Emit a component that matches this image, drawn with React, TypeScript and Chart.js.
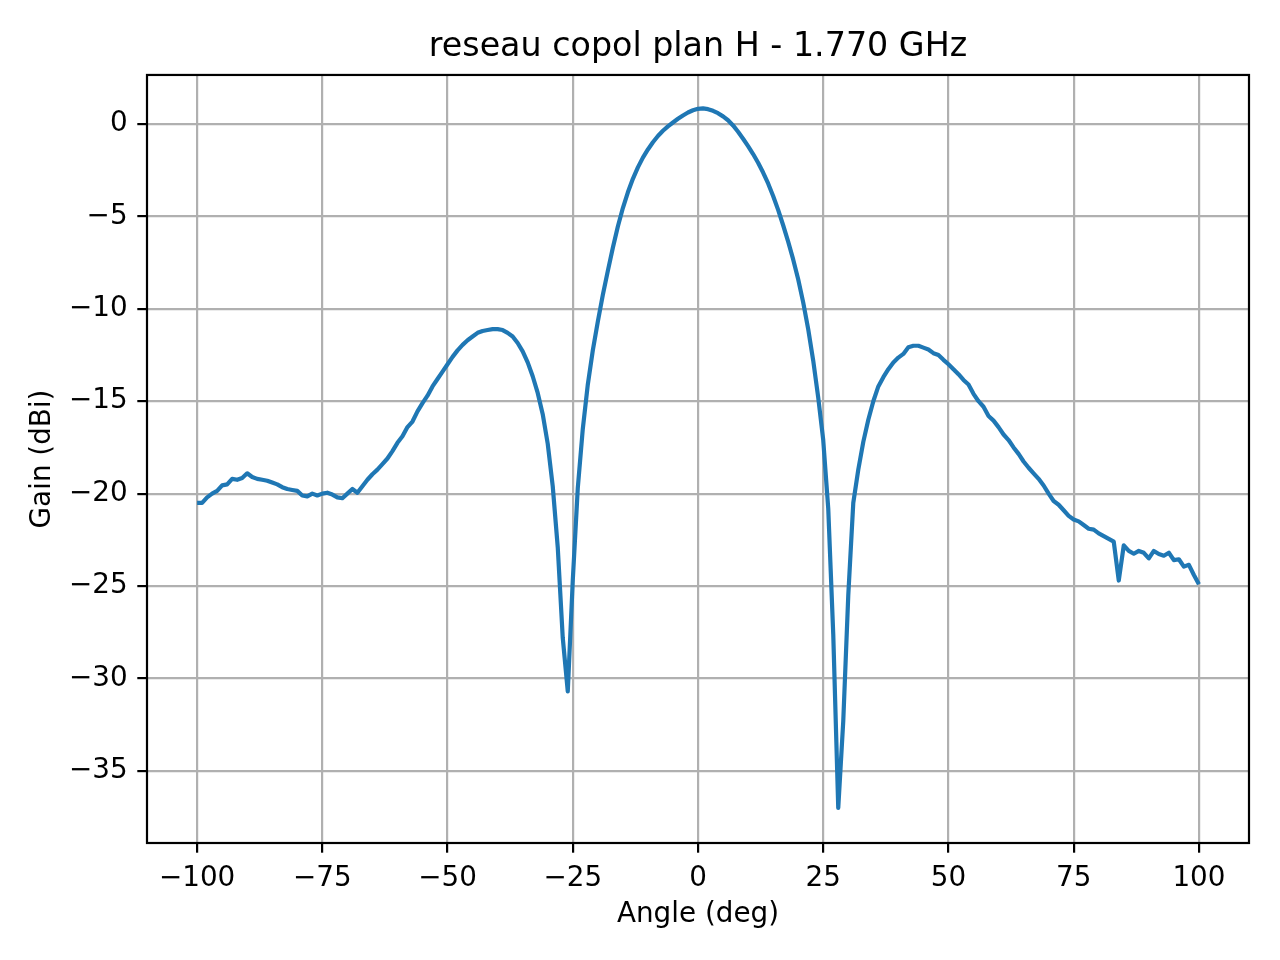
import React, { useEffect, useRef } from "react";
import { Chart, registerables } from "chart.js";

Chart.register(...registerables);

const TITLE = "reseau copol plan H - 1.770 GHz";
const X_LABEL = "Angle (deg)";
const Y_LABEL = "Gain (dBi)";

const angles = [
  -100, -99, -98, -97, -96, -95, -94, -93, -92, -91,
  -90, -89, -88, -87, -86, -85, -84, -83, -82, -81,
  -80, -79, -78, -77, -76, -75, -74, -73, -72, -71,
  -70, -69, -68, -67, -66, -65, -64, -63, -62, -61,
  -60, -59, -58, -57, -56, -55, -54, -53, -52, -51,
  -50, -49, -48, -47, -46, -45, -44, -43, -42, -41,
  -40, -39, -38, -37, -36, -35, -34, -33, -32, -31,
  -30, -29, -28, -27, -26, -25, -24, -23, -22, -21,
  -20, -19, -18, -17, -16, -15, -14, -13, -12, -11,
  -10, -9, -8, -7, -6, -5, -4, -3, -2, -1,
  0, 1, 2, 3, 4, 5, 6, 7, 8, 9,
  10, 11, 12, 13, 14, 15, 16, 17, 18, 19,
  20, 21, 22, 23, 24, 25, 26, 27, 28, 29,
  30, 31, 32, 33, 34, 35, 36, 37, 38, 39,
  40, 41, 42, 43, 44, 45, 46, 47, 48, 49,
  50, 51, 52, 53, 54, 55, 56, 57, 58, 59,
  60, 61, 62, 63, 64, 65, 66, 67, 68, 69,
  70, 71, 72, 73, 74, 75, 76, 77, 78, 79,
  80, 81, 82, 83, 84, 85, 86, 87, 88, 89,
  90, 91, 92, 93, 94, 95, 96, 97, 98, 99,
  100,
];

const gains = [
  -20.5, -20.5, -20.2, -20.0, -19.85, -19.55, -19.5, -19.2, -19.25, -19.15,
  -18.9, -19.1, -19.2, -19.25, -19.3, -19.4, -19.5, -19.65, -19.75, -19.8,
  -19.85, -20.1, -20.15, -20.0, -20.1, -20.0, -19.95, -20.05, -20.2, -20.25,
  -20.0, -19.75, -19.95, -19.6, -19.25, -18.95, -18.7, -18.4, -18.1, -17.7,
  -17.25, -16.9, -16.4, -16.1, -15.55, -15.1, -14.7, -14.2, -13.8, -13.4,
  -13.0, -12.6, -12.25, -11.95, -11.7, -11.5, -11.3, -11.2, -11.15, -11.1,
  -11.1, -11.15, -11.3, -11.5, -11.85, -12.3, -12.9, -13.65, -14.55, -15.7,
  -17.3, -19.6, -22.9, -27.8, -30.7, -24.7, -19.7, -16.5, -14.1, -12.25,
  -10.7, -9.25, -7.95, -6.7, -5.55, -4.55, -3.7, -2.97, -2.35, -1.82,
  -1.38, -0.99, -0.65, -0.37, -0.13, 0.08, 0.28, 0.46, 0.62, 0.74,
  0.82, 0.84, 0.8, 0.71, 0.58, 0.41, 0.2, -0.08, -0.42, -0.8,
  -1.2, -1.63, -2.1, -2.63, -3.22, -3.9, -4.65, -5.48, -6.37, -7.33,
  -8.4, -9.65, -11.1, -12.8, -14.8, -17.1, -20.8, -27.6, -37.0, -32.3,
  -25.5, -20.5, -18.7, -17.2, -16.0, -15.0, -14.2, -13.7, -13.27, -12.9,
  -12.64, -12.44, -12.08, -12.0, -12.0, -12.1, -12.2, -12.4, -12.5, -12.76,
  -13.0, -13.27, -13.54, -13.85, -14.1, -14.6, -15.0, -15.3, -15.8, -16.05,
  -16.4, -16.8, -17.1, -17.5, -17.85, -18.26, -18.6, -18.9, -19.2, -19.56,
  -20.0, -20.4, -20.6, -20.9, -21.2, -21.4, -21.5, -21.7, -21.9, -21.95,
  -22.15, -22.3, -22.45, -22.6, -24.7, -22.8, -23.1, -23.25, -23.1, -23.2,
  -23.5, -23.1, -23.27, -23.36, -23.2, -23.6, -23.55, -23.95, -23.85, -24.4,
  -24.9,
];

const xTicks = [-100, -75, -50, -25, 0, 25, 50, 75, 100];
const yTicks = [0, -5, -10, -15, -20, -25, -30, -35];

const X_MIN = -110;
const X_MAX = 110;
const Y_MIN = -38.9;
const Y_MAX = 2.65;

const FONT = "'DejaVu Sans', sans-serif";
const LINE_COLOR = "#1f77b4";
const GRID_COLOR = "#b0b0b0";

const fmt = (v: number) => (v < 0 ? "\u2212" + Math.abs(v) : String(v));

const framePlugin = {
  id: "frame",
  afterDatasetsDraw(chart: any) {
    const { ctx, chartArea } = chart;
    const { left, top, right, bottom } = chartArea;
    ctx.save();
    ctx.strokeStyle = "#000";
    ctx.lineWidth = 2.2;
    ctx.strokeRect(left, top, right - left, bottom - top);
    ctx.restore();
  },
};

export default function App() {
  const ref = useRef<HTMLCanvasElement>(null);

  useEffect(() => {
    if (!ref.current) return;
    const points = angles.map((a, i) => ({ x: a, y: gains[i] }));
    const chart = new Chart(ref.current, {
      type: "line",
      data: {
        datasets: [
          {
            data: points,
            borderColor: LINE_COLOR,
            backgroundColor: LINE_COLOR,
            borderWidth: 4.2,
            pointRadius: 0,
            tension: 0,
            fill: false,
            borderJoinStyle: "round",
            borderCapStyle: "butt",
          },
        ],
      },
      options: {
        responsive: false,
        maintainAspectRatio: false,
        devicePixelRatio: 1,
        animation: false,
        events: [],
        layout: { padding: { left: 0, right: 31, top: 0, bottom: 0 } },
        plugins: {
          legend: { display: false },
          tooltip: { enabled: false },
          title: {
            display: true,
            text: TITLE,
            color: "#000",
            fullSize: false,
            font: { family: FONT, size: 33.3, weight: "normal" },
            padding: { top: 27, bottom: 8 },
          },
        },
        scales: {
          x: {
            type: "linear",
            min: X_MIN,
            max: X_MAX,
            afterBuildTicks: (s: any) => {
              s.ticks = xTicks.map((v) => ({ value: v }));
            },
            afterFit: (s: any) => {
              s.height = 117;
            },
            ticks: {
              callback: (v: any) => fmt(Number(v)),
              color: "#000",
              font: { family: FONT, size: 27.8 },
              padding: 9.7,
              maxRotation: 0,
              autoSkip: false,
            },
            grid: {
              color: GRID_COLOR,
              lineWidth: 2.2,
              tickColor: "#000",
              tickLength: 9.7,
              tickWidth: 2.2,
            },
            border: { display: false },
            title: {
              display: true,
              text: X_LABEL,
              color: "#000",
              font: { family: FONT, size: 27.8 },
              padding: { top: 0, bottom: 29 },
            },
          },
          y: {
            type: "linear",
            min: Y_MIN,
            max: Y_MAX,
            afterBuildTicks: (s: any) => {
              s.ticks = yTicks.map((v) => ({ value: v }));
            },
            afterFit: (s: any) => {
              s.width = 147;
            },
            ticks: {
              callback: (v: any) => fmt(Number(v)),
              color: "#000",
              font: { family: FONT, size: 27.8 },
              padding: 9.7,
              autoSkip: false,
            },
            grid: {
              color: GRID_COLOR,
              lineWidth: 2.2,
              tickColor: "#000",
              tickLength: 9.7,
              tickWidth: 2.2,
            },
            border: { display: false },
            title: {
              display: true,
              text: Y_LABEL,
              color: "#000",
              font: { family: FONT, size: 27.8 },
              padding: { top: 26, bottom: 0 },
            },
          },
        },
      },
      plugins: [framePlugin],
    } as any);
    return () => chart.destroy();
  }, []);

  return (
    <div
      style={{
        position: "absolute",
        left: 0,
        top: 0,
        width: 1280,
        height: 960,
        background: "#fff",
      }}
    >
      <canvas
        ref={ref}
        width={1280}
        height={960}
        style={{ display: "block", width: 1280, height: 960 }}
      />
    </div>
  );
}
